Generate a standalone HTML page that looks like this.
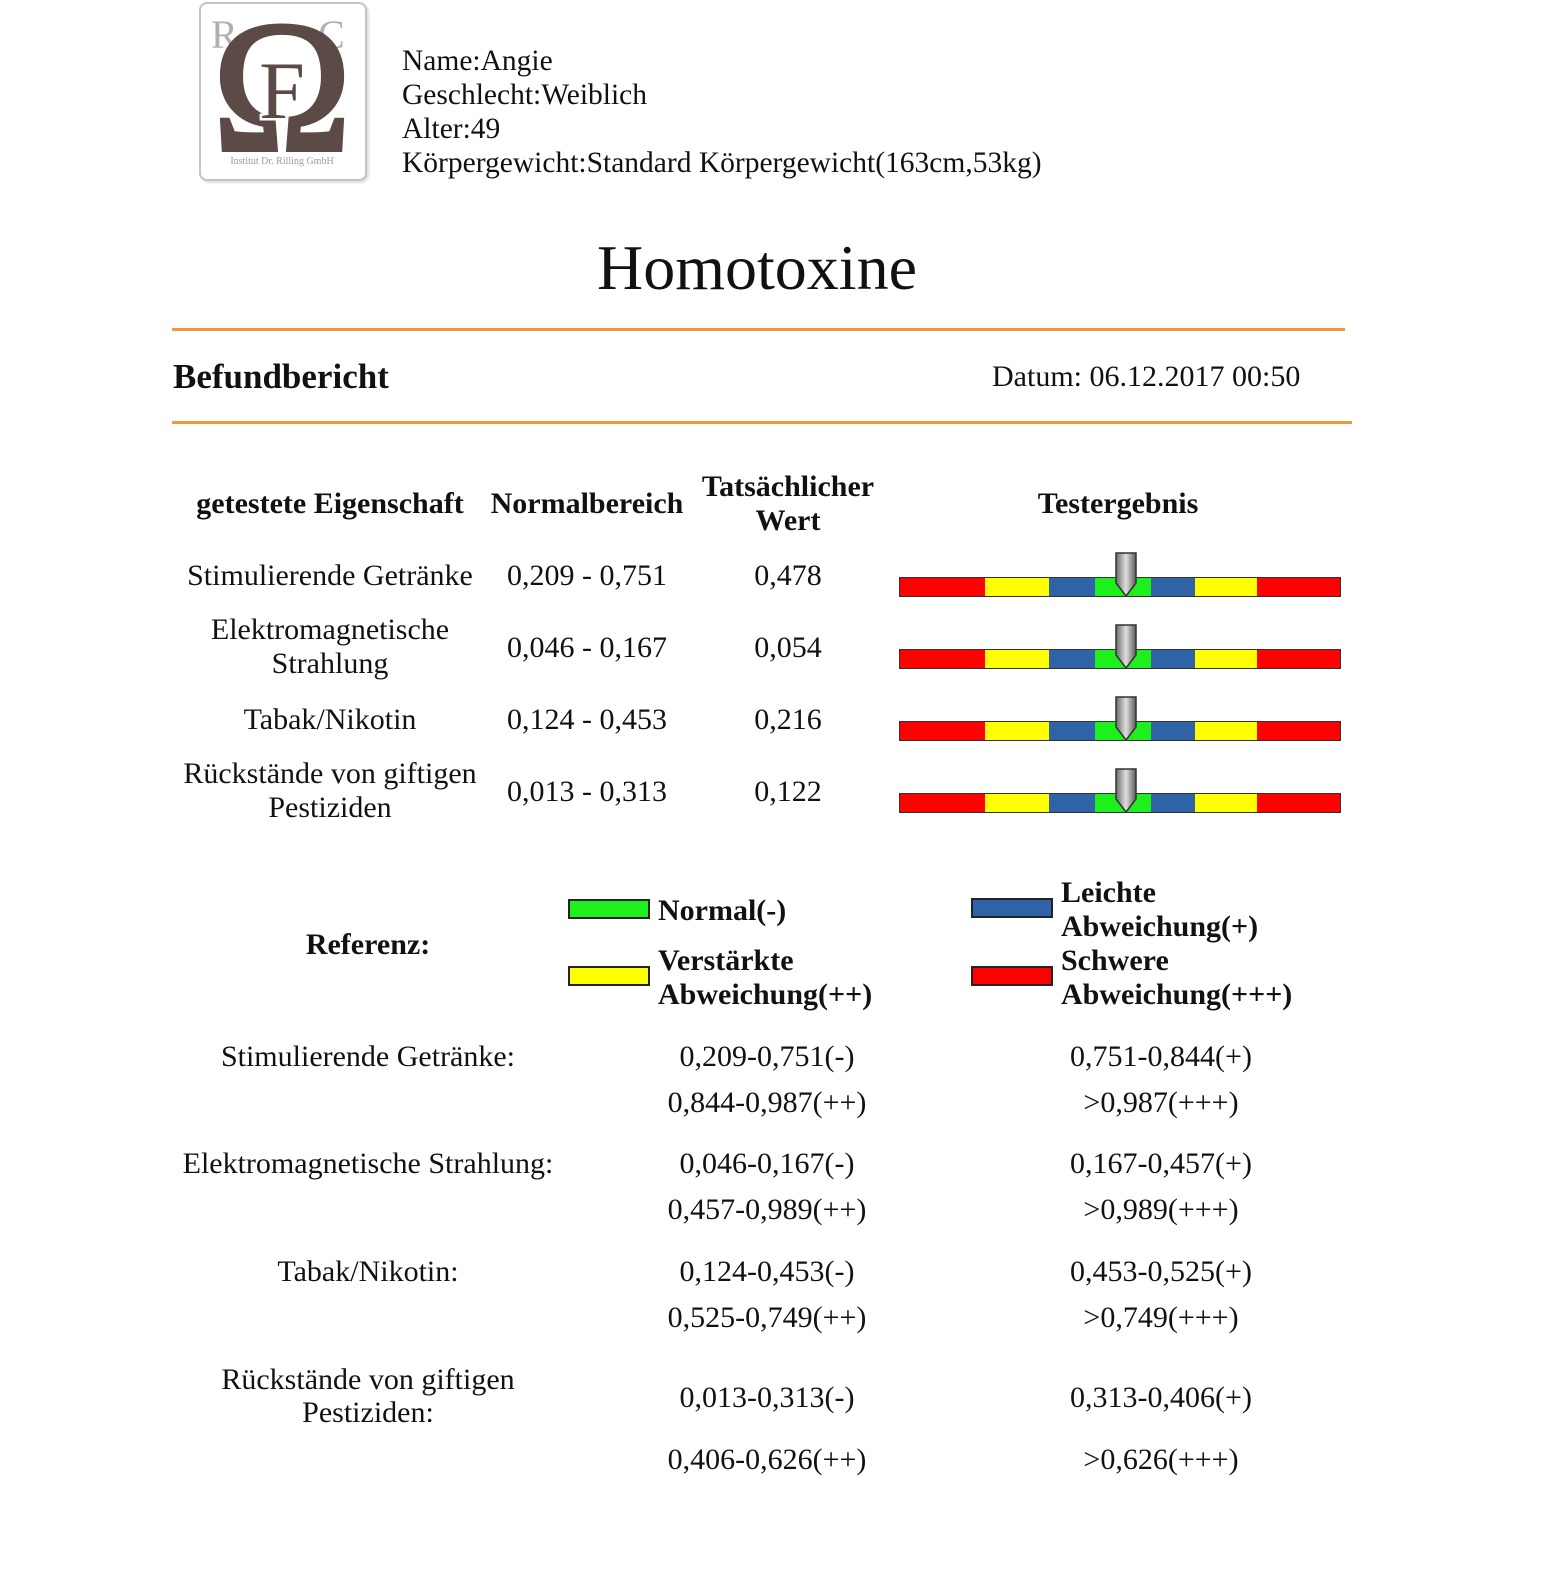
<!DOCTYPE html>
<html>
<head>
<meta charset="utf-8">
<style>
html,body{margin:0;padding:0;background:#fff;}
body{width:1542px;height:1573px;position:relative;overflow:hidden;font-family:"Liberation Serif","Times New Roman",serif;color:#111;}
.t{position:absolute;white-space:nowrap;font-size:30px;line-height:34px;margin-top:2px;}
.c{text-align:center;width:500px;margin-left:-250px;}
.b{font-weight:bold;}
.line{position:absolute;background:#f39440;}
.bar{position:absolute;left:899px;width:440px;height:18px;border:1px solid #333;display:flex;}
.bar div{height:100%;}
.r{background:#ff0000;}.y{background:#ffff00;}.bl{background:#2f62a6;}.g{background:#1ef01e;}
.ptr{position:absolute;left:1114px;width:24px;height:46px;}
.box{position:absolute;width:78px;height:16px;border:2px solid #222;}
</style>
</head>
<body>

<!-- Logo -->
<div style="position:absolute;left:199px;top:2px;width:164px;height:175px;border:2px solid #c4c4c4;border-radius:8px;box-shadow:2px 2px 2px #ddd;overflow:hidden;background:#fff;">
  <svg width="164" height="175" viewBox="0 0 164 175" style="position:absolute;left:0;top:0;">
    <text x="10" y="44" font-family="Liberation Serif, serif" font-size="40" fill="#b5aeab">R</text>
    <text x="117" y="44" font-family="Liberation Serif, serif" font-size="40" fill="#b5aeab">C</text>
    <text x="81" y="146" text-anchor="middle" font-family="Liberation Serif, serif" font-size="188" fill="#5b4a45" stroke="#5b4a45" stroke-width="4">&#937;</text>
    <text x="81" y="114" text-anchor="middle" font-family="Liberation Serif, serif" font-size="82" fill="#5b4a45" stroke="#fff" stroke-width="5" paint-order="stroke">F</text>
    <text x="81" y="160" text-anchor="middle" font-family="Liberation Serif, serif" font-size="10" fill="#a09a98">Institut Dr. Rilling GmbH</text>
  </svg>
</div>

<!-- Header info -->
<div class="t" style="left:402px;top:42px;font-size:29.5px;">Name:Angie<br>Geschlecht:Weiblich<br>Alter:49<br>Körpergewicht:Standard Körpergewicht(163cm,53kg)</div>

<!-- Title -->
<div class="t c" style="left:757px;top:236px;font-size:64px;line-height:64px;margin-top:0;">Homotoxine</div>

<div class="line" style="left:172px;top:328px;width:1173px;height:3px;"></div>
<div class="t b" style="left:173px;top:356px;font-size:35px;line-height:40px;margin-top:1px;">Befundbericht</div>
<div class="t" style="left:992px;top:359px;margin-top:1px;">Datum: 06.12.2017 00:50</div>
<div class="line" style="left:172px;top:421px;width:1180px;height:3px;"></div>

<!-- Table header -->
<div class="t c b" style="left:330px;top:485px;">getestete Eigenschaft</div>
<div class="t c b" style="left:587px;top:485px;">Normalbereich</div>
<div class="t c b" style="left:788px;top:468px;">Tatsächlicher<br>Wert</div>
<div class="t c b" style="left:1118px;top:485px;">Testergebnis</div>

<!-- Rows -->
<div class="t c" style="left:330px;top:557px;">Stimulierende Getränke</div>
<div class="t c" style="left:587px;top:557px;">0,209 - 0,751</div>
<div class="t c" style="left:788px;top:557px;">0,478</div>

<div class="t c" style="left:330px;top:611px;">Elektromagnetische<br>Strahlung</div>
<div class="t c" style="left:587px;top:629px;">0,046 - 0,167</div>
<div class="t c" style="left:788px;top:629px;">0,054</div>

<div class="t c" style="left:330px;top:701px;">Tabak/Nikotin</div>
<div class="t c" style="left:587px;top:701px;">0,124 - 0,453</div>
<div class="t c" style="left:788px;top:701px;">0,216</div>

<div class="t c" style="left:330px;top:755px;">Rückstände von giftigen<br>Pestiziden</div>
<div class="t c" style="left:587px;top:773px;">0,013 - 0,313</div>
<div class="t c" style="left:788px;top:773px;">0,122</div>

<!-- Bars -->
<div class="bar" style="top:577px;"><div class="r" style="width:85px"></div><div class="y" style="width:64px"></div><div class="bl" style="width:46px"></div><div class="g" style="width:56px"></div><div class="bl" style="width:44px"></div><div class="y" style="width:62px"></div><div class="r" style="flex:1"></div></div>
<div class="bar" style="top:649px;"><div class="r" style="width:85px"></div><div class="y" style="width:64px"></div><div class="bl" style="width:46px"></div><div class="g" style="width:56px"></div><div class="bl" style="width:44px"></div><div class="y" style="width:62px"></div><div class="r" style="flex:1"></div></div>
<div class="bar" style="top:721px;"><div class="r" style="width:85px"></div><div class="y" style="width:64px"></div><div class="bl" style="width:46px"></div><div class="g" style="width:56px"></div><div class="bl" style="width:44px"></div><div class="y" style="width:62px"></div><div class="r" style="flex:1"></div></div>
<div class="bar" style="top:793px;"><div class="r" style="width:85px"></div><div class="y" style="width:64px"></div><div class="bl" style="width:46px"></div><div class="g" style="width:56px"></div><div class="bl" style="width:44px"></div><div class="y" style="width:62px"></div><div class="r" style="flex:1"></div></div>

<!-- Pointers -->
<svg class="ptr" style="top:552px;" viewBox="0 0 24 46"><defs><linearGradient id="pg" x1="0" x2="1" y1="0" y2="0"><stop offset="0" stop-color="#6a6a6a"/><stop offset="0.5" stop-color="#e0e0e0"/><stop offset="1" stop-color="#5a5a5a"/></linearGradient></defs><polygon points="2,1 22,1 22,31 12,44 2,31" fill="url(#pg)" stroke="#333" stroke-width="1.5"/></svg>
<svg class="ptr" style="top:624px;" viewBox="0 0 24 46"><polygon points="2,1 22,1 22,31 12,44 2,31" fill="url(#pg)" stroke="#333" stroke-width="1.5"/></svg>
<svg class="ptr" style="top:696px;" viewBox="0 0 24 46"><polygon points="2,1 22,1 22,31 12,44 2,31" fill="url(#pg)" stroke="#333" stroke-width="1.5"/></svg>
<svg class="ptr" style="top:768px;" viewBox="0 0 24 46"><polygon points="2,1 22,1 22,31 12,44 2,31" fill="url(#pg)" stroke="#333" stroke-width="1.5"/></svg>

<!-- Legend -->
<div class="t c b" style="left:368px;top:926px;">Referenz:</div>
<div class="box g" style="left:568px;top:899px;"></div>
<div class="t b" style="left:658px;top:892px;">Normal(-)</div>
<div class="box bl" style="left:971px;top:898px;"></div>
<div class="t b" style="left:1061px;top:874px;">Leichte<br>Abweichung(+)</div>
<div class="box y" style="left:568px;top:966px;"></div>
<div class="t b" style="left:658px;top:942px;">Verstärkte<br>Abweichung(++)</div>
<div class="box r" style="left:971px;top:966px;"></div>
<div class="t b" style="left:1061px;top:942px;">Schwere<br>Abweichung(+++)</div>

<!-- Reference values -->
<div class="t c" style="left:368px;top:1038px;">Stimulierende Getränke:</div>
<div class="t c" style="left:767px;top:1038px;">0,209-0,751(-)</div>
<div class="t c" style="left:1161px;top:1038px;">0,751-0,844(+)</div>
<div class="t c" style="left:767px;top:1084px;">0,844-0,987(++)</div>
<div class="t c" style="left:1161px;top:1084px;">&gt;0,987(+++)</div>

<div class="t c" style="left:368px;top:1145px;">Elektromagnetische Strahlung:</div>
<div class="t c" style="left:767px;top:1145px;">0,046-0,167(-)</div>
<div class="t c" style="left:1161px;top:1145px;">0,167-0,457(+)</div>
<div class="t c" style="left:767px;top:1191px;">0,457-0,989(++)</div>
<div class="t c" style="left:1161px;top:1191px;">&gt;0,989(+++)</div>

<div class="t c" style="left:368px;top:1253px;">Tabak/Nikotin:</div>
<div class="t c" style="left:767px;top:1253px;">0,124-0,453(-)</div>
<div class="t c" style="left:1161px;top:1253px;">0,453-0,525(+)</div>
<div class="t c" style="left:767px;top:1299px;">0,525-0,749(++)</div>
<div class="t c" style="left:1161px;top:1299px;">&gt;0,749(+++)</div>

<div class="t c" style="left:368px;top:1361px;line-height:33px;">Rückstände von giftigen<br>Pestiziden:</div>
<div class="t c" style="left:767px;top:1379px;">0,013-0,313(-)</div>
<div class="t c" style="left:1161px;top:1379px;">0,313-0,406(+)</div>
<div class="t c" style="left:767px;top:1441px;">0,406-0,626(++)</div>
<div class="t c" style="left:1161px;top:1441px;">&gt;0,626(+++)</div>

</body>
</html>
